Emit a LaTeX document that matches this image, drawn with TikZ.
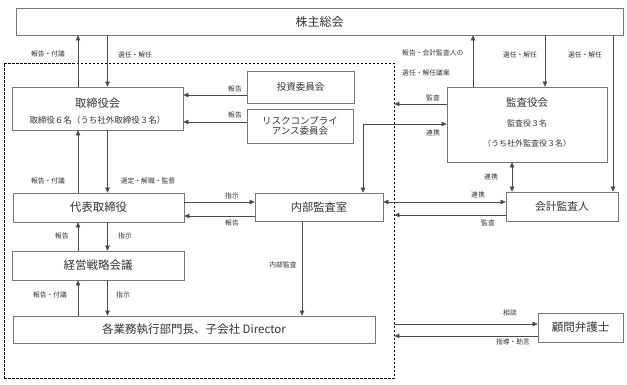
\documentclass[tikz,border=0pt]{standalone}
\usepackage{fontspec}
\setmainfont{Noto Sans CJK JP}
\usetikzlibrary{arrows.meta}
\newcommand\myfs[1]{\fontsize{#1}{#1}\selectfont}
\definecolor{txt}{HTML}{333333}
\definecolor{ln}{HTML}{4A4A4A}
\definecolor{bx}{HTML}{777777}
\begin{document}
\begin{tikzpicture}[x=1pt,y=-1pt,
  box/.style={draw=bx, line width=0.7pt, rectangle, inner sep=0pt, text=txt},
  tx/.style={inner sep=0pt, text=txt},
  lab/.style={inner sep=0pt, text=txt, font=\myfs{6.8}},
  arr/.style={draw=ln, line width=0.6pt, -{Triangle[length=5pt,width=4.5pt]}},
  darr/.style={draw=ln, line width=0.6pt, {Triangle[length=5pt,width=4.5pt]}-{Triangle[length=5pt,width=4.5pt]}},
  grpbox/.style={draw=black, line width=0.8pt, dash pattern=on 2.5pt off 1.5pt, rectangle, inner sep=0pt}
]
\useasboundingbox (0,0) rectangle (627,384);

% group (dashed)
\node[grpbox, minimum width=390pt, minimum height=315pt] (grp) at (199,220.5) {};

% boxes
\node[box, minimum width=607pt, minimum height=27pt, font=\myfs{12}] (kabu) at (319.5,21.5) {株主総会};
\node[box, minimum width=171pt, minimum height=43pt] (tb) at (97.5,108.5) {};
\node[tx, font=\myfs{11.25}] (tbt1) at (97.5,103) {取締役会};
\node[tx, font=\myfs{8.5}] (tbt2) at (97.5,120) {取締役６名（うち社外取締役３名）};
\node[box, minimum width=107pt, minimum height=32pt, font=\myfs{9.5}] (toushi) at (300.5,87) {投資委員会};
\node[box, minimum width=106pt, minimum height=34pt, align=center, font=\fontsize{9.5}{10.5}\selectfont] (risk) at (300,126) {リスクコンプライ\\アンス委員会};
\node[box, minimum width=160pt, minimum height=75pt] (kansa) at (527,124.5) {};
\node[tx, font=\myfs{10.5}] (kst1) at (527,103) {監査役会};
\node[tx, font=\myfs{8}] (kst2) at (527,123) {監査役３名};
\node[tx, font=\myfs{8}] (kst3) at (527,143) {（うち社外監査役３名）};
\node[box, minimum width=128pt, minimum height=28pt, font=\myfs{11.25}] (naibu) at (319,207) {内部監査室};
\node[box, minimum width=112pt, minimum height=29pt, font=\myfs{10.8}] (kaikei) at (562,206.5) {会計監査人};
\node[box, minimum width=171pt, minimum height=29pt, font=\myfs{11.5}] (daihyo) at (98.5,207.5) {代表取締役};
\node[box, minimum width=172pt, minimum height=29pt, font=\myfs{11.5}] (keiei) at (98,265.5) {経営戦略会議};
\node[box, minimum width=362pt, minimum height=27pt, font=\myfs{11.5}] (gyomu) at (194,329.5) {各業務執行部門長、子会社 Director};
\node[box, minimum width=85pt, minimum height=29pt, font=\myfs{11.5}] (komon) at (580.5,327.5) {顧問弁護士};

% connectors
\draw[arr] (tb.north -| 78,0) -- (kabu.south -| 78,0);
\draw[arr] (kabu.south -| 107.5,0) -- (tb.north -| 107.5,0);
\draw[arr] (toushi.west |- 0,95) -- (tb.east |- 0,95);
\draw[arr] (risk.west |- 0,122) -- (tb.east |- 0,122);
\draw[arr] (kansa.north -| 473,0) -- (kabu.south -| 473,0);
\draw[arr] (kabu.south -| 545,0) -- (kansa.north -| 545,0);
\draw[arr] (kabu.south -| 613,0) -- (kaikei.north -| 613,0);
\draw[arr] (kansa.west |- 0,104) -- (grp.east |- 0,104);
\draw[darr] (naibu.north -| 363,0) |- (kansa.west |- 0,124);
\draw[darr] (kansa.south -| 512,0) -- (kaikei.north -| 512,0);
\draw[darr] (naibu.east |- 0,202) -- (kaikei.west |- 0,202);
\draw[arr] (kaikei.west |- 0,215) -- (grp.east |- 0,215);
\draw[arr] (daihyo.east |- 0,202) -- (naibu.west |- 0,202);
\draw[arr] (naibu.west |- 0,216) -- (daihyo.east |- 0,216);
\draw[arr] (daihyo.north -| 78,0) -- (tb.south -| 78,0);
\draw[arr] (tb.south -| 107.5,0) -- (daihyo.north -| 107.5,0);
\draw[arr] (keiei.north -| 78,0) -- (daihyo.south -| 78,0);
\draw[arr] (daihyo.south -| 107.5,0) -- (keiei.north -| 107.5,0);
\draw[arr] (gyomu.north -| 78,0) -- (keiei.south -| 78,0);
\draw[arr] (keiei.south -| 107.5,0) -- (gyomu.north -| 107.5,0);
\draw[arr] (naibu.south -| 302,0) -- (gyomu.north -| 302,0);
\draw[arr] (grp.east |- 0,324) -- (komon.west |- 0,324);
\draw[arr] (komon.west |- 0,336) -- (grp.east |- 0,336);

% labels
\node[lab] (l1) at (48,54) {報告・付議};
\node[lab] (l2) at (135,55) {選任・解任};
\node[lab] (l3) at (235,89) {報告};
\node[lab] (l4) at (235,115) {報告};
\node[lab, anchor=west] (l5) at (402,53) {報告・会計監査人の};
\node[lab, anchor=west] (l6) at (402,73) {選任・解任議案};
\node[lab] (l7) at (520,55) {選任・解任};
\node[lab] (l8) at (585,55) {選任・解任};
\node[lab] (l9) at (433,98) {監査};
\node[lab] (l10) at (433,133) {連携};
\node[lab] (l11) at (491,177) {連携};
\node[lab] (l12) at (478,195) {連携};
\node[lab] (l13) at (488,223) {監査};
\node[lab] (l14) at (232,196) {指示};
\node[lab] (l15) at (232,223) {報告};
\node[lab] (l16) at (48,181) {報告・付議};
\node[lab] (l17) at (148,181) {選定・解職・監督};
\node[lab] (l18) at (62,236) {報告};
\node[lab] (l19) at (125,236) {指示};
\node[lab] (l20) at (50,295) {報告・付議};
\node[lab] (l21) at (123,295) {指示};
\node[lab] (l22) at (283,265) {内部監査};
\node[lab] (l23) at (510,313) {相談};
\node[lab] (l24) at (513,342) {指導・助言};
\end{tikzpicture}
\end{document}
